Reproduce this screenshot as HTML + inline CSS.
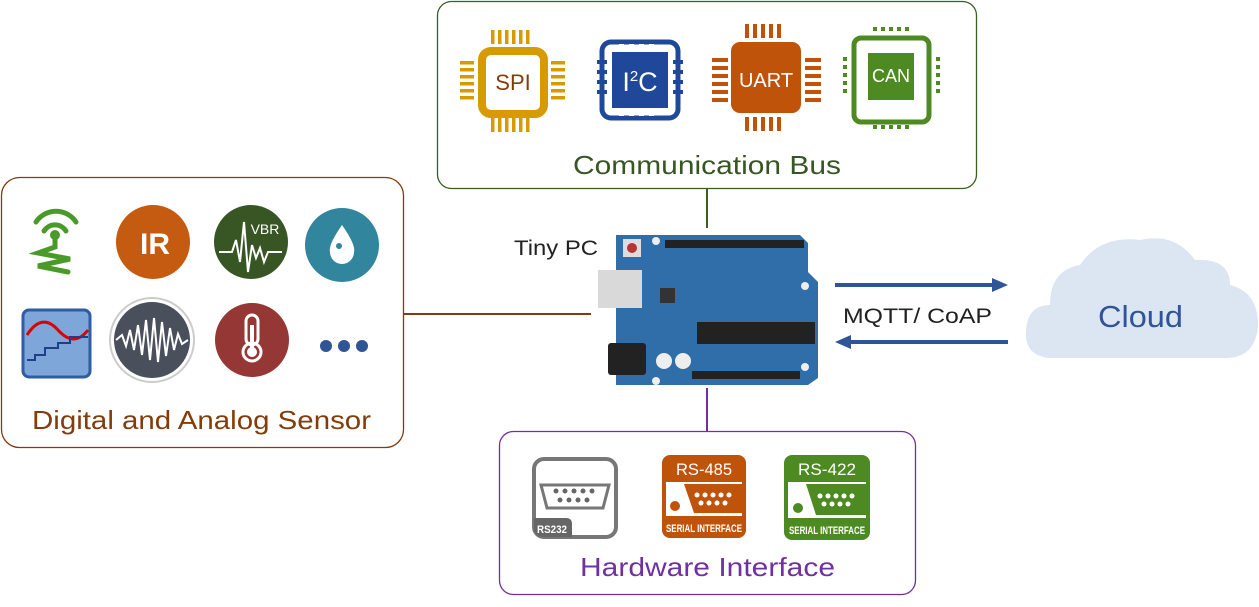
<!DOCTYPE html>
<html><head><meta charset="utf-8"><style>
html,body{margin:0;padding:0;background:#fff}
svg{display:block;font-family:"Liberation Sans",sans-serif}
</style></head><body>
<svg width="1259" height="607" viewBox="0 0 1259 607" xmlns="http://www.w3.org/2000/svg">
<rect x="437.5" y="1.5" width="539" height="187" rx="14" fill="#fff" stroke="#3b5e22" stroke-width="1.3"/>
<text x="573" y="174" font-size="26" fill="#375623" textLength="268" lengthAdjust="spacingAndGlyphs">Communication Bus</text>
<line x1="707" y1="188" x2="707" y2="228" stroke="#3b5e22" stroke-width="2"/>
<rect x="1.5" y="177.5" width="402" height="270" rx="18" fill="#fff" stroke="#843c0c" stroke-width="1.3"/>
<text x="32" y="429" font-size="26" fill="#843c0c" textLength="339" lengthAdjust="spacingAndGlyphs">Digital and Analog Sensor</text>
<line x1="403" y1="314" x2="591" y2="314" stroke="#843c0c" stroke-width="2"/>
<rect x="499.5" y="431.5" width="416" height="163" rx="14" fill="#fff" stroke="#7030a0" stroke-width="1.3"/>
<text x="580" y="576" font-size="26" fill="#7030a0" textLength="255" lengthAdjust="spacingAndGlyphs">Hardware Interface</text>
<line x1="707" y1="388" x2="707" y2="431" stroke="#7030a0" stroke-width="2"/>

<g fill="#d79a00">
<rect x="491" y="30" width="3.5" height="14"/><rect x="498" y="30" width="3.5" height="14"/><rect x="505" y="30" width="3.5" height="14"/><rect x="512" y="30" width="3.5" height="14"/><rect x="519" y="30" width="3.5" height="14"/><rect x="526" y="30" width="3.5" height="14"/>
<rect x="491" y="118" width="3.5" height="14"/><rect x="498" y="118" width="3.5" height="14"/><rect x="505" y="118" width="3.5" height="14"/><rect x="512" y="118" width="3.5" height="14"/><rect x="519" y="118" width="3.5" height="14"/><rect x="526" y="118" width="3.5" height="14"/>
<rect x="460" y="61" width="14" height="3.5"/><rect x="460" y="68" width="14" height="3.5"/><rect x="460" y="75" width="14" height="3.5"/><rect x="460" y="82" width="14" height="3.5"/><rect x="460" y="89" width="14" height="3.5"/><rect x="460" y="96" width="14" height="3.5"/>
<rect x="551" y="61" width="14" height="3.5"/><rect x="551" y="68" width="14" height="3.5"/><rect x="551" y="75" width="14" height="3.5"/><rect x="551" y="82" width="14" height="3.5"/><rect x="551" y="89" width="14" height="3.5"/><rect x="551" y="96" width="14" height="3.5"/>
</g>
<rect x="482" y="51" width="62" height="63" rx="9" fill="#fff" stroke="#d79a00" stroke-width="8"/>
<text x="513" y="90" font-size="22" fill="#843c0c" text-anchor="middle">SPI</text>

<rect x="602" y="42" width="76" height="76" rx="9" fill="#fff" stroke="#20489a" stroke-width="5"/>
<rect x="612" y="52" width="56" height="56" fill="#20489a"/>
<g fill="#20489a"><rect x="597" y="60" width="10" height="4"/><rect x="597" y="70" width="10" height="4"/><rect x="597" y="80" width="10" height="4"/><rect x="597" y="90" width="10" height="4"/><rect x="673" y="60" width="10" height="4"/><rect x="673" y="70" width="10" height="4"/><rect x="673" y="80" width="10" height="4"/><rect x="673" y="90" width="10" height="4"/></g>
<g fill="#fff"><rect x="619" y="44" width="5" height="4"/><rect x="629" y="44" width="5" height="4"/><rect x="639" y="44" width="5" height="4"/><rect x="649" y="44" width="5" height="4"/><rect x="619" y="112" width="5" height="4"/><rect x="629" y="112" width="5" height="4"/><rect x="639" y="112" width="5" height="4"/><rect x="649" y="112" width="5" height="4"/></g>
<text x="640" y="91" font-size="27" fill="#fff" text-anchor="middle">I<tspan font-size="15" dy="-10">2</tspan><tspan dy="10">C</tspan></text>

<g fill="#c0530a">
<rect x="745" y="24" width="4" height="14"/><rect x="753" y="24" width="4" height="14"/><rect x="761" y="24" width="4" height="14"/><rect x="769" y="24" width="4" height="14"/><rect x="777" y="24" width="4" height="14"/>
<rect x="745" y="117" width="4" height="14"/><rect x="753" y="117" width="4" height="14"/><rect x="761" y="117" width="4" height="14"/><rect x="769" y="117" width="4" height="14"/><rect x="777" y="117" width="4" height="14"/>
<rect x="712" y="58" width="16" height="4"/><rect x="712" y="66" width="16" height="4"/><rect x="712" y="74" width="16" height="4"/><rect x="712" y="82" width="16" height="4"/><rect x="712" y="90" width="16" height="4"/><rect x="712" y="98" width="16" height="4"/>
<rect x="805" y="58" width="16" height="4"/><rect x="805" y="66" width="16" height="4"/><rect x="805" y="74" width="16" height="4"/><rect x="805" y="82" width="16" height="4"/><rect x="805" y="90" width="16" height="4"/><rect x="805" y="98" width="16" height="4"/>
<rect x="731" y="42" width="70" height="71" rx="9"/>
</g>
<text x="766" y="87" font-size="20" fill="#fff" text-anchor="middle">UART</text>

<rect x="854" y="38" width="75" height="84" rx="7" fill="#fff" stroke="#4e8a22" stroke-width="5"/>
<rect x="868" y="53" width="46" height="47" fill="#4e8a22"/>
<g fill="#4e8a22"><rect x="873" y="27" width="4" height="4"/><rect x="881" y="27" width="4" height="4"/><rect x="889" y="27" width="4" height="4"/><rect x="897" y="27" width="4" height="4"/><rect x="905" y="27" width="4" height="4"/><rect x="873" y="125" width="4" height="4"/><rect x="881" y="125" width="4" height="4"/><rect x="889" y="125" width="4" height="4"/><rect x="897" y="125" width="4" height="4"/><rect x="905" y="125" width="4" height="4"/>
<rect x="843" y="57" width="4" height="4"/><rect x="843" y="65" width="4" height="4"/><rect x="843" y="73" width="4" height="4"/><rect x="843" y="81" width="4" height="4"/><rect x="843" y="89" width="4" height="4"/><rect x="936" y="57" width="4" height="4"/><rect x="936" y="65" width="4" height="4"/><rect x="936" y="73" width="4" height="4"/><rect x="936" y="81" width="4" height="4"/><rect x="936" y="89" width="4" height="4"/></g>
<text x="891" y="82" font-size="18" fill="#fff" text-anchor="middle">CAN</text>

<g stroke="#4a9a2a" stroke-width="5" fill="none" stroke-linecap="round">
<path d="M36 222 A24 24 0 0 1 76 222"/><path d="M44 231 A13 13 0 0 1 66 231"/>
<path d="M55 238 L55 247 L38 253 L70 259 L38 266 L68 272"/>
</g>
<circle cx="55" cy="235" r="5" fill="#4a9a2a"/>
<circle cx="153" cy="242" r="37" fill="#c55a11"/>
<text x="155" y="254" font-size="30" font-weight="bold" fill="#fff" text-anchor="middle">IR</text>
<circle cx="251" cy="242" r="37" fill="#375623"/>
<text x="265" y="234" font-size="14" fill="#fff" text-anchor="middle">VBR</text>
<path d="M219 252 L232 252 L236 240 L240 262 L244 222 L248 272 L252 245 L256 258 L260 248 L264 262 L268 252 L282 252" stroke="#fff" stroke-width="2" fill="none"/>
<circle cx="342" cy="245" r="37" fill="#31859c"/>
<path d="M342 225 Q356 245 354 252 A12 12 0 0 1 330 252 Q328 245 342 225Z" fill="#fff"/>
<circle cx="339" cy="246" r="3" fill="#31859c"/>
<rect x="23" y="310" width="67" height="67" rx="6" fill="#7ea6d8" stroke="#2e5da4" stroke-width="3"/>
<path d="M27 335 Q42 312 58 330 T88 330" stroke="#d00" stroke-width="3" fill="none"/>
<path d="M27 360 L35 360 L35 355 L45 355 L45 348 L58 348 L58 343 L70 343 L70 337 L88 337" stroke="#1f3f8a" stroke-width="2" fill="none"/>
<circle cx="152" cy="340" r="42" fill="#fff" stroke="#ccc" stroke-width="2"/>
<circle cx="152" cy="340" r="38" fill="#4a4f5c"/>
<path d="M116 340 L122 335 L126 346 L130 330 L134 350 L138 325 L142 355 L146 320 L150 360 L154 318 L158 362 L162 322 L166 356 L170 328 L174 350 L178 334 L182 344 L188 340" stroke="#fff" stroke-width="2" fill="none"/>
<circle cx="252" cy="340" r="37" fill="#953735"/>
<rect x="246" y="315" width="12" height="30" rx="6" fill="none" stroke="#fff" stroke-width="3"/>
<circle cx="252" cy="352" r="9" fill="none" stroke="#fff" stroke-width="3"/>
<circle cx="252" cy="352" r="5" fill="#fff"/><rect x="250" y="325" width="4" height="25" fill="#fff"/>
<g fill="#2f5597"><circle cx="326" cy="346" r="6"/><circle cx="344" cy="346" r="6"/><circle cx="362" cy="346" r="6"/></g>

<text x="514" y="255" font-size="21" fill="#222" textLength="84" lengthAdjust="spacingAndGlyphs">Tiny PC</text>
<path d="M616 235 L800 235 L808 243 L808 272 L818 282 L818 378 L808 385 L616 385 Z" fill="#2f6ea8"/>
<rect x="598" y="270" width="44" height="38" fill="#d9d9d9"/>
<rect x="608" y="343" width="38" height="32" rx="3" fill="#222"/>
<rect x="697" y="322" width="118" height="22" fill="#222"/>
<rect x="665" y="240" width="84" height="8" fill="#222"/><rect x="742" y="240" width="62" height="8" fill="#222"/>
<rect x="692" y="371" width="62" height="8" fill="#222"/><rect x="754" y="371" width="46" height="8" fill="#222"/>
<rect x="660" y="288" width="15" height="15" fill="#333"/>
<rect x="623" y="239" width="18" height="18" fill="#ddd"/><circle cx="632" cy="248" r="5" fill="#b33"/>
<circle cx="664" cy="361" r="8" fill="#eee"/><circle cx="683" cy="361" r="8" fill="#eee"/>
<circle cx="656" cy="241" r="4" fill="#eee"/><circle cx="805" cy="286" r="4" fill="#eee"/><circle cx="805" cy="367" r="4" fill="#eee"/><circle cx="656" cy="381" r="4" fill="#eee"/>

<line x1="835" y1="285" x2="995" y2="285" stroke="#2f5597" stroke-width="4"/>
<polygon points="1008,285 992,278 992,292" fill="#2f5597"/>
<line x1="850" y1="342" x2="1008" y2="342" stroke="#2f5597" stroke-width="4"/>
<polygon points="835,342 851,335 851,349" fill="#2f5597"/>
<text x="843" y="323" font-size="21" fill="#222" textLength="149" lengthAdjust="spacingAndGlyphs">MQTT/ CoAP</text>

<path d="M1050 358 Q1024 356 1026 330 Q1028 305 1050 305 Q1050 270 1080 265 Q1100 235 1140 240 Q1175 232 1195 260 Q1230 258 1230 285 Q1258 292 1258 325 Q1256 358 1225 358 Z" fill="#dce6f2"/>
<text x="1098" y="327" font-size="31" fill="#2f5597" textLength="85" lengthAdjust="spacingAndGlyphs">Cloud</text>

<rect x="534" y="459" width="82" height="78" rx="10" fill="#fff" stroke="#777" stroke-width="4"/>
<path d="M541 485 L609 485 L603 508 L547 508 Z" fill="#fff" stroke="#777" stroke-width="3"/>
<g fill="#666"><circle cx="556" cy="491" r="2.5"/><circle cx="565" cy="491" r="2.5"/><circle cx="574" cy="491" r="2.5"/><circle cx="583" cy="491" r="2.5"/><circle cx="592" cy="491" r="2.5"/><circle cx="560" cy="500" r="2.5"/><circle cx="569" cy="500" r="2.5"/><circle cx="578" cy="500" r="2.5"/><circle cx="587" cy="500" r="2.5"/></g>
<path d="M534 518 L566 518 Q572 518 572 524 L572 537 L544 537 Q534 537 534 527Z" fill="#666"/>
<text x="537" y="533" font-size="11" font-weight="bold" fill="#fff" textLength="30" lengthAdjust="spacingAndGlyphs">RS232</text>

<rect x="662" y="455" width="84" height="83" rx="8" fill="#c0530a"/>
<text x="676" y="475" font-size="17" fill="#fff" textLength="56" lengthAdjust="spacingAndGlyphs">RS-485</text>
<rect x="666" y="482" width="76" height="34" fill="#fff"/>
<path d="M684 484 L742 484 L742 513 L694 513 Z" fill="#c0530a"/>
<circle cx="675" cy="506" r="5" fill="#c0530a"/>
<g fill="#fff"><circle cx="697" cy="495" r="2.5"/><circle cx="705" cy="495" r="2.5"/><circle cx="713" cy="495" r="2.5"/><circle cx="721" cy="495" r="2.5"/><circle cx="729" cy="495" r="2.5"/><circle cx="701" cy="503" r="2.5"/><circle cx="709" cy="503" r="2.5"/><circle cx="717" cy="503" r="2.5"/><circle cx="725" cy="503" r="2.5"/></g>
<text x="666" y="532" font-size="11" fill="#fff" font-weight="bold" textLength="76" lengthAdjust="spacingAndGlyphs">SERIAL INTERFACE</text>

<rect x="784" y="455" width="86" height="85" rx="8" fill="#4e8a22"/>
<text x="798" y="475" font-size="17" fill="#fff" textLength="58" lengthAdjust="spacingAndGlyphs">RS-422</text>
<rect x="788" y="482" width="78" height="36" fill="#fff"/>
<path d="M806 484 L866 484 L866 515 L816 515 Z" fill="#4e8a22"/>
<circle cx="798" cy="508" r="5" fill="#4e8a22"/>
<g fill="#fff"><circle cx="820" cy="496" r="2.5"/><circle cx="828" cy="496" r="2.5"/><circle cx="836" cy="496" r="2.5"/><circle cx="844" cy="496" r="2.5"/><circle cx="852" cy="496" r="2.5"/><circle cx="824" cy="504" r="2.5"/><circle cx="832" cy="504" r="2.5"/><circle cx="840" cy="504" r="2.5"/><circle cx="848" cy="504" r="2.5"/></g>
<text x="789" y="534" font-size="11" fill="#fff" font-weight="bold" textLength="76" lengthAdjust="spacingAndGlyphs">SERIAL INTERFACE</text>
</svg>
</body></html>
